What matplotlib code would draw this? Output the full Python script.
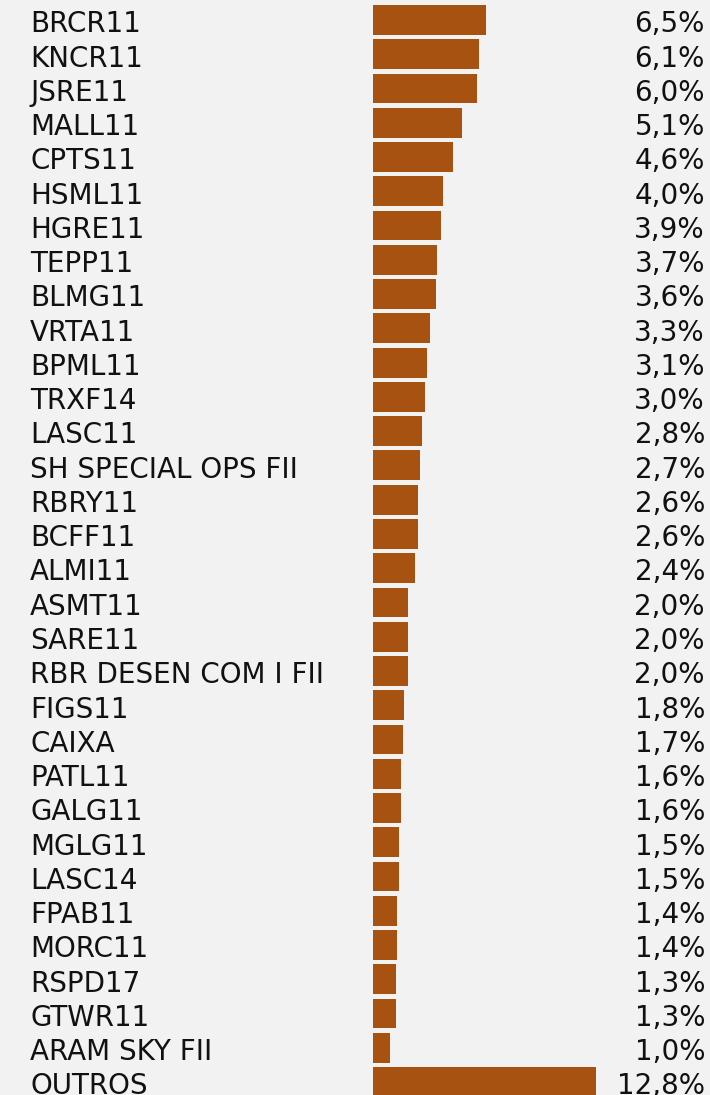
import matplotlib.pyplot as plt
import numpy as np

# Carteira - participação por ativo (%)
tickers = ["BRCR11", "KNCR11", "JSRE11", "MALL11", "CPTS11", "HSML11", "HGRE11",
           "TEPP11", "BLMG11", "VRTA11", "BPML11", "TRXF14", "LASC11",
           "SH SPECIAL OPS FII", "RBRY11", "BCFF11", "ALMI11", "ASMT11", "SARE11",
           "RBR DESEN COM I FII", "FIGS11", "CAIXA", "PATL11", "GALG11", "MGLG11",
           "LASC14", "FPAB11", "MORC11", "RSPD17", "GTWR11", "ARAM SKY FII", "OUTROS"]
weights = [6.5, 6.1, 6.0, 5.1, 4.6, 4.0, 3.9, 3.7, 3.6, 3.3, 3.1, 3.0, 2.8, 2.7,
           2.6, 2.6, 2.4, 2.0, 2.0, 2.0, 1.8, 1.7, 1.6, 1.6, 1.5, 1.5, 1.4, 1.4,
           1.3, 1.3, 1.0, 12.8]

W, H = 710, 1095
bg = "#f2f2f2"
bar_color = "#a85212"

fig = plt.figure(figsize=(W / 100, H / 100), dpi=100, facecolor=bg)
# axes from bar start (x=373px) to right edge of value labels (x=705px)
ax = fig.add_axes([373 / W, 0, (705 - 373) / W, 1])
ax.set_facecolor(bg)

n = len(tickers)
y = np.arange(n)
row = 34.26  # px per row
ax.barh(y, weights, height=0.87, color=bar_color)
ax.set_xlim(0, (705 - 373) / 17.4)
ax.set_ylim((H - 20) / row, -20 / row)
ax.axis("off")

trans_lbl = ax.get_yaxis_transform()
for i, (t, v) in enumerate(zip(tickers, weights)):
    ax.text(-(373 - 30) / (705 - 373), i + 0.36, t, transform=trans_lbl,
            ha="left", va="baseline", fontsize=20, color="#111111")
    ax.text(1.0, i + 0.36, f"{v:.1f}%".replace(".", ","), transform=trans_lbl,
            ha="right", va="baseline", fontsize=20, color="#111111")

fig.savefig("out.png", dpi=100, facecolor=bg)
